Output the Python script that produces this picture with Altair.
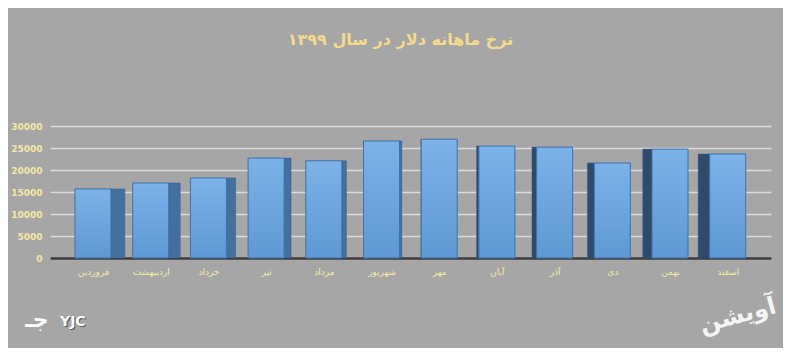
import altair as alt
import pandas as pd

months = ["فروردین", "اردیبهشت", "خرداد", "تیر", "مرداد", "شهریور",
          "مهر", "آبان", "آذر", "دی", "بهمن", "اسفند"]
rates = [15700, 17050, 18200, 22700, 22100, 26600,
         27000, 25450, 25200, 21600, 24750, 23650]
y_ticks = [0, 5000, 10000, 15000, 20000, 25000, 30000]
title_text = "نرخ ماهانه دلار در سال ۱۳۹۹"

df = pd.DataFrame({"month": months, "rate": rates, "idx": list(range(len(months)))})

BG = "#a6a6a6"
LABEL = "#f5e6a4"

label_expr = "[" + ",".join("'" + m + "'" for m in months) + "][datum.value]"

x_axis = alt.Axis(title=None, values=list(range(len(months))), labelExpr=label_expr,
                  labelAngle=0, ticks=False, labelPadding=9, labelFontSize=9,
                  labelColor=LABEL, labelFont="DejaVu Sans", labelFlush=False,
                  labelOverlap=False, domainColor="#3a3a3a", domainWidth=2.5, grid=False)
x_scale = alt.Scale(domain=[-0.745, 11.75], nice=False, zero=False)
y_enc = alt.Y("rate:Q", scale=alt.Scale(domain=[0, 30000], nice=False),
              axis=alt.Axis(title=None, values=y_ticks, format="d", ticks=False,
                            domain=False, labelPadding=8, labelFontSize=9,
                            labelFontWeight="bold",
                            labelColor=LABEL, labelFont="DejaVu Sans",
                            gridColor="#dadada", gridWidth=1.5))

base = alt.Chart(df).transform_calculate(
    hw="0.312",
    sw="abs(datum.idx - 6) * 0.04",
).transform_calculate(
    fx="datum.idx - datum.hw",
    fx2="datum.idx + datum.hw",
    sx="datum.idx < 6 ? datum.idx + datum.hw : datum.idx - datum.hw - datum.sw",
    sx2="datum.idx < 6 ? datum.idx + datum.hw + datum.sw : datum.idx - datum.hw",
    col="datum.idx < 6 ? '#44709e' : '#2f4a6a'",
)

sides = base.mark_bar(stroke="#355f8e", strokeWidth=0.5).encode(
    x=alt.X("sx:Q", scale=x_scale, axis=x_axis),
    x2="sx2:Q",
    y=y_enc,
    y2=alt.datum(0),
    color=alt.Color("col:N", scale=None, legend=None),
)

front = base.mark_bar(
    stroke="#3d72ae",
    strokeWidth=1,
    color=alt.Gradient(gradient="linear", x1=0, x2=0, y1=0, y2=1,
                       stops=[alt.GradientStop(color="#7cb2e8", offset=0),
                              alt.GradientStop(color="#5f98d3", offset=1)]),
).encode(x=alt.X("fx:Q", scale=x_scale, axis=x_axis), x2="fx2:Q", y=y_enc, y2=alt.datum(0))

wm = pd.DataFrame({"t": ["YJC"]})
yjc_shadow = alt.Chart(wm).mark_text(fontSize=14, fontWeight="bold", color="#555555",
                                     font="DejaVu Sans", align="left").encode(
    text="t:N", x=alt.value(11), y=alt.value(197))
yjc = alt.Chart(wm).mark_text(fontSize=14, fontWeight="bold", color="#ffffff",
                              font="DejaVu Sans", align="left").encode(
    text="t:N", x=alt.value(10), y=alt.value(196))
wm2 = pd.DataFrame({"t": ["جـ"]})
jim = alt.Chart(wm2).mark_text(fontSize=22, fontWeight="bold", color="#ffffff",
                               font="DejaVu Sans").encode(
    text="t:N", x=alt.value(-13), y=alt.value(194))
wm3 = pd.DataFrame({"t": ["آویشن"]})
avishan = alt.Chart(wm3).mark_text(fontSize=24, fontWeight="bold", color="#f4f4f4",
                                   font="DejaVu Sans", angle=345).encode(
    text="t:N", x=alt.value(688), y=alt.value(190))

chart = alt.layer(sides, front, yjc_shadow, yjc, jim, avishan).properties(
    width=721,
    height=132,
    padding={"left": 42, "top": 118, "right": 12, "bottom": 90},
    autosize=alt.AutoSizeParams(type="none"),
    title=alt.TitleParams(title_text, fontSize=16, fontWeight="bold", color="#f6da8c",
                          font="DejaVu Sans", anchor="middle", offset=74, dx=-10),
).configure(background=BG).configure_view(stroke=None)

chart.save("out.html", embed_options={"renderer": "svg", "actions": False})
